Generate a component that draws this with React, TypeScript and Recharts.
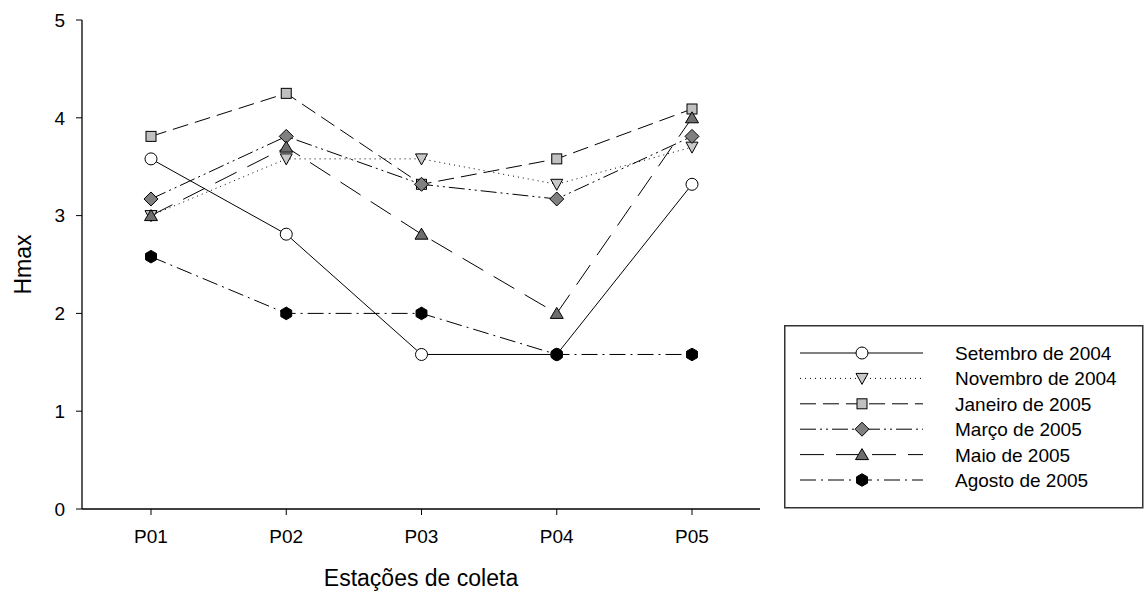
import React from "react";
import { LineChart, Line, XAxis, YAxis, Legend } from "recharts";

const stations = ["P01", "P02", "P03", "P04", "P05"];
const setembro2004 = [3.58, 2.81, 1.58, 1.58, 3.32];
const novembro2004 = [3.0, 3.58, 3.58, 3.32, 3.7];
const janeiro2005 = [3.81, 4.25, 3.32, 3.58, 4.09];
const marco2005 = [3.17, 3.81, 3.32, 3.17, 3.81];
const maio2005 = [3.0, 3.7, 2.81, 2.0, 4.0];
const agosto2005 = [2.58, 2.0, 2.0, 1.58, 1.58];
const yTicks = [0, 1, 2, 3, 4, 5];

type Shape = "circle" | "down" | "square" | "diamond" | "up" | "hex";

const series: { key: string; name: string; values: number[]; dash: string; shape: Shape; fill: string }[] = [
	{ key: "set04", name: "Setembro de 2004", values: setembro2004, dash: "", shape: "circle", fill: "#ffffff" },
	{ key: "nov04", name: "Novembro de 2004", values: novembro2004, dash: "1 4", shape: "down", fill: "#c8c8c8" },
	{ key: "jan05", name: "Janeiro de 2005", values: janeiro2005, dash: "16 7", shape: "square", fill: "#c0c0c0" },
	{ key: "mar05", name: "Março de 2005", values: marco2005, dash: "16 4 2 4 2 4", shape: "diamond", fill: "#808080" },
	{ key: "mai05", name: "Maio de 2005", values: maio2005, dash: "24 12", shape: "up", fill: "#6e6e6e" },
	{ key: "ago05", name: "Agosto de 2005", values: agosto2005, dash: "16 5 2 5", shape: "hex", fill: "#000000" },
];

const data = stations.map((s, i) => {
	const row: Record<string, string | number> = { station: s };
	series.forEach((ser) => (row[ser.key] = ser.values[i]));
	return row;
});

const FONT = "Arial, 'Liberation Sans', sans-serif";

function Marker({ shape, fill, cx, cy }: { shape: Shape; fill: string; cx: number; cy: number }) {
	const st = { fill, stroke: "#000", strokeWidth: 1 };
	switch (shape) {
		case "circle":
			return <circle cx={cx} cy={cy} r={6} {...st} />;
		case "down":
			return <polygon points={`${cx - 6},${cy - 5} ${cx + 6},${cy - 5} ${cx},${cy + 6}`} {...st} />;
		case "square":
			return <rect x={cx - 5} y={cy - 5} width={10} height={10} {...st} />;
		case "diamond":
			return <polygon points={`${cx},${cy - 7} ${cx + 7},${cy} ${cx},${cy + 7} ${cx - 7},${cy}`} {...st} />;
		case "up":
			return <polygon points={`${cx},${cy - 6} ${cx + 6.5},${cy + 5} ${cx - 6.5},${cy + 5}`} {...st} />;
		default: {
			const pts = [0, 1, 2, 3, 4, 5]
				.map((k) => {
					const a = (Math.PI / 3) * k - Math.PI / 2;
					return `${cx + 6.3 * Math.cos(a)},${cy + 6.3 * Math.sin(a)}`;
				})
				.join(" ");
			return <polygon points={pts} {...st} />;
		}
	}
}

function LegendBox() {
	return (
		<svg width={360} height={184} style={{ display: "block" }}>
			<rect x={0.75} y={0.75} width={358} height={182} fill="#fff" stroke="#333" strokeWidth={1.5} />
			{series.map((s, i) => {
				const y = 28 + i * 25.4;
				return (
					<g key={s.key}>
						<line x1={16} x2={139} y1={y} y2={y} stroke="#000" strokeWidth={1} strokeDasharray={s.dash || undefined} />
						<Marker shape={s.shape} fill={s.fill} cx={78} cy={y} />
						<text x={171} y={y + 7} fontSize={19} fontFamily={FONT} fill="#000">
							{s.name}
						</text>
					</g>
				);
			})}
		</svg>
	);
}

export default function App() {
	return (
		<div style={{ position: "absolute", left: 0, top: 0 }}>
			<LineChart width={1145} height={596} data={data} margin={{ top: 20, right: 385, left: 22, bottom: 27 }}>
				<XAxis
					dataKey="station"
					height={60}
					padding={{ left: 69, right: 68 }}
					axisLine={{ stroke: "#000", strokeWidth: 1.3 }}
					tickLine={{ stroke: "#000" }}
					tickSize={6}
					tickMargin={15}
					tick={{ fontSize: 19, fontFamily: FONT, fill: "#000" }}
					label={{
						content: (p: any) => {
							const vb = p.viewBox;
							return (
								<text x={vb.x + vb.width / 2} y={vb.y + 77} textAnchor="middle" fontSize={23} fontFamily={FONT} fill="#000">
									Estações de coleta
								</text>
							);
						},
					}}
				/>
				<XAxis xAxisId="top" orientation="top" height={0} tick={false} tickLine={false} axisLine={{ stroke: "#000", strokeWidth: 1.3 }} />
				<YAxis
					domain={[0, 5]}
					ticks={yTicks}
					width={60}
					axisLine={{ stroke: "#000", strokeWidth: 1.3 }}
					tickLine={{ stroke: "#000" }}
					tickSize={6}
					tickMargin={11}
					tick={{ fontSize: 19, fontFamily: FONT, fill: "#000" }}
					label={{
						content: (p: any) => {
							const vb = p.viewBox;
							const cx = 23;
							const cy = vb.y + vb.height / 2;
							return (
								<text x={cx} y={cy} transform={`rotate(-90 ${cx} ${cy})`} textAnchor="middle" dominantBaseline="central" fontSize={23} fontFamily={FONT} fill="#000">
									Hmax
								</text>
							);
						},
					}}
				/>
				<YAxis yAxisId="right" orientation="right" width={0} tick={false} tickLine={false} axisLine={{ stroke: "#000", strokeWidth: 1.3 }} />
				<Legend layout="vertical" align="center" verticalAlign="middle" wrapperStyle={{ left: 784, top: 325, width: 360, height: 184 }} content={() => <LegendBox />} />
				{series.map((s) => (
					<Line
						key={s.key}
						dataKey={s.key}
						name={s.name}
						type="linear"
						stroke="#000"
						strokeWidth={1}
						strokeDasharray={s.dash || undefined}
						isAnimationActive={false}
						dot={(p: any) => <Marker key={`${s.key}-${p.index}`} shape={s.shape} fill={s.fill} cx={p.cx} cy={p.cy} />}
						activeDot={false}
					/>
				))}
			</LineChart>
		</div>
	);
}
